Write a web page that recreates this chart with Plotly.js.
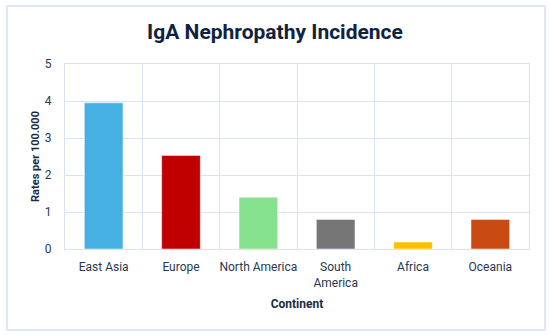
<!DOCTYPE html>
<html>
<head>
<meta charset="utf-8">
<script src="https://cdn.plot.ly/plotly-3.0.1.min.js"></script>
<style>
html,body{margin:0;padding:0;background:#fff;}
#wrap{position:relative;width:550px;height:336px;}
#chart{width:550px;height:336px;}
#frame{position:absolute;left:6px;top:5px;width:536px;height:322px;border:2px solid #dce8f5;pointer-events:none;}
</style>
</head>
<body>
<div id="wrap"><div id="chart"></div><div id="frame"></div></div>
<script>
const categories = ["East Asia", "Europe", "North America", "South<br>America", "Africa", "Oceania"];
const rates = [3.95, 2.53, 1.40, 0.80, 0.19, 0.80];
const barColors = ["#45b0e1", "#c00000", "#86e28e", "#767676", "#ffc000", "#c94a12"];
const yTicks = [0, 1, 2, 3, 4, 5];

const textColor = "#1d2b42";
const gridColor = "#d6e4f5";

Plotly.newPlot("chart", [{
  type: "bar",
  x: categories,
  y: rates,
  marker: {color: barColors, line: {color: "rgba(255,255,255,0.5)", width: 1}},
  width: 0.5,
  hoverinfo: "x+y"
}], {
  width: 550,
  height: 336,
  margin: {l: 65, r: 21, t: 64, b: 87},
  paper_bgcolor: "#ffffff",
  plot_bgcolor: "#ffffff",
  font: {family: "Roboto, 'DejaVu Sans', sans-serif", color: textColor, size: 12},
  title: {
    text: "<b>IgA Nephropathy Incidence</b>",
    font: {family: "Roboto, sans-serif", size: 21, color: "#0f2240"},
    x: 0.5, xanchor: "center", y: 0.905, yanchor: "middle"
  },
  xaxis: {
    type: "category",
    tickson: "boundaries",
    tickangle: 0,
    showgrid: true,
    gridcolor: gridColor,
    gridwidth: 1,
    showline: true,
    mirror: true,
    linecolor: gridColor,
    ticks: "",
    tickfont: {size: 12, color: "#2a3850"},
    ticklabelstandoff: 7,
    title: {text: "<b>Continent</b>", font: {size: 12, color: textColor}, standoff: 10},
    automargin: false
  },
  yaxis: {
    range: [0, 5],
    tickvals: yTicks,
    showgrid: true,
    gridcolor: gridColor,
    gridwidth: 1,
    showline: true,
    mirror: true,
    linecolor: gridColor,
    zeroline: false,
    ticks: "",
    tickfont: {size: 12, color: "#2a3850"},
    ticklabelstandoff: 10,
    title: {text: "<b>Rates per 100.000</b>", font: {size: 11, color: textColor}, standoff: 2},
    automargin: false
  },
  showlegend: false,
  bargap: 0.5
}, {displayModeBar: false, staticPlot: true});
</script>
</body>
</html>
